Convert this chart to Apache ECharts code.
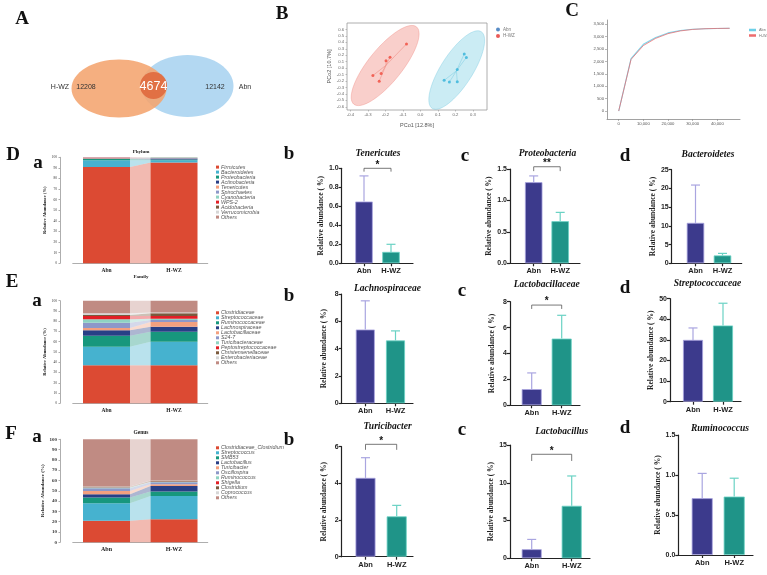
<!DOCTYPE html>
<html>
<head>
<meta charset="utf-8">
<script src="https://cdn.jsdelivr.net/npm/echarts@6/dist/echarts.min.js"></script>
<style>html,body{margin:0;padding:0;background:#fff}#main{width:767px;height:575px}</style>
</head>
<body>
<div id="main"></div>
<script>
var groups = ['Abn', 'H-WZ'];
var vennCounts = [12208, 4674, 12142];   // H-WZ only, shared, Abn only

// PCoA
var pcoaAbn = [[0.25, 0.22], [0.262, 0.165], [0.21, -0.023], [0.135, -0.19], [0.165, -0.217], [0.21, -0.21]];
var pcoaHwz = [[-0.08, 0.375], [-0.174, 0.17], [-0.197, 0.115], [-0.225, -0.084], [-0.272, -0.115], [-0.236, -0.202]];
var ellipseAbn = [0.207, -0.03, 0.14, 0.595, 0.0763, -0.132];
var ellipseHwz = [-0.202, 0.04, 0.179, 0.6, 0.0746, -0.164];
var pcoaXTicks = [-0.4, -0.3, -0.2, -0.1, 0, 0.1, 0.2, 0.3];
var pcoaYTicks = [-0.6, -0.5, -0.4, -0.3, -0.2, -0.1, 0, 0.1, 0.2, 0.3, 0.4, 0.5, 0.6];

// rarefaction
var depth = [0, 5000, 10000, 15000, 20000, 25000, 30000, 35000, 40000, 45000];
var rareAbn = [0, 2110, 2690, 2965, 3150, 3245, 3295, 3320, 3330, 3335];
var rareHwz = [0, 2080, 2640, 2930, 3120, 3230, 3290, 3318, 3330, 3335];
var rareXTicks = [0, 10000, 20000, 30000, 40000];
var rareYTicks = [0, 500, 1000, 1500, 2000, 2500, 3000, 3500];

// stacked composition
var phylumNames = ['Firmicutes', 'Bacteroidetes', 'Proteobacteria', 'Actinobacteria', 'Tenericutes', 'Spirochaetes', 'Cyanobacteria', 'WPS-2', 'Acidobacteria', 'Verrucomicrobia', 'Others'];
var phylumAbn = [90.8, 6.4, 1.3, 0.3, 0.65, 0.1, 0.1, 0.05, 0.05, 0.05, 0.2];
var phylumHwz = [95.2, 2.1, 0.7, 0.9, 0.12, 0.3, 0.38, 0.1, 0.05, 0.05, 0.1];
var familyNames = ['Clostridiaceae', 'Streptococcaceae', 'Ruminococcaceae', 'Lachnospiraceae', 'Lactobacillaceae', 'S24-7', 'Turicibacteraceae', 'Peptostreptococcaceae', 'Christensenellaceae', 'Enterobacteriaceae', 'Others'];
var familyAbn = [37.0, 18.2, 10.7, 5.2, 2.3, 5.2, 3.2, 3.3, 1.0, 1.7, 12.2];
var familyHwz = [37.0, 23.1, 9.7, 4.9, 4.5, 2.0, 1.3, 2.6, 2.6, 0.9, 11.4];
var genusNames = ['Clostridiaceae_Clostridium', 'Streptococcus', 'SMB53', 'Lactobacillus', 'Turicibacter', 'Oscillospira', 'Ruminococcus', 'Shigella', 'Clostridium', 'Coprococcus', 'Others'];
var genusAbn = [21.0, 16.9, 5.5, 3.2, 3.2, 2.6, 1.0, 0.2, 0.4, 0.2, 45.8];
var genusHwz = [22.3, 22.7, 4.2, 5.5, 1.6, 2.0, 0.6, 0.2, 0.6, 0.3, 40.0];
var stackTicks = [0, 10, 20, 30, 40, 50, 60, 70, 80, 90, 100];

// group means and upper error values
var tenericutes = [0.65, 0.12], tenericutesErr = [0.92, 0.20];
var proteobacteria = [1.29, 0.67], proteobacteriaErr = [1.39, 0.81];
var bacteroidetes = [10.8, 2.1], bacteroidetesErr = [20.9, 2.65];
var lachnospiraceae = [5.4, 4.6], lachnospiraceaeErr = [7.5, 5.3];
var lactobacillaceae = [1.25, 5.15], lactobacillaceaeErr = [2.5, 6.95];
var streptococcaceae = [30.0, 37.0], streptococcaceaeErr = [35.8, 47.8];
var turicibacter = [4.3, 2.2], turicibacterErr = [5.4, 2.8];
var lactobacillus = [1.2, 6.95], lactobacillusErr = [2.5, 10.9];
var ruminococcus = [0.71, 0.73], ruminococcusErr = [1.02, 0.96];

var sans = 'Liberation Sans', serif = 'Liberation Serif';
var taxonColors = ['#dc4a33', '#46b2cf', '#17977d', '#283f86', '#f3a07f', '#8d98c9', '#8fd3c2', '#e21f26', '#7b5a3d', '#d6d6d6', '#c08b83'];
var barColors = ['#3c3a8c', '#1f9488'], errColors = ['#a9a5e0', '#6ad2c4'];

var grids = [], xAxes = [], yAxes = [], series = [], legends = [], graphics = [];

function fmt1(v) { return (Math.round(v * 10) / 10).toFixed(1); }
function thousands(v) { return String(v).replace(/\B(?=(\d{3})+(?!\d))/g, ','); }

function txt(s, x, y, font, color, align) {
    graphics.push({type: 'text', x: x, y: y, z: 50, style: {text: s, font: font, fill: color || '#111',
        align: align || 'center', textAlign: align || 'center', verticalAlign: 'middle', textVerticalAlign: 'middle'}});
}

//Venn
graphics.push({type: 'ellipse', shape: {cx: 187.5, cy: 86, rx: 46, ry: 31}, style: {fill: '#b3d8f2'}});
graphics.push({type: 'ellipse', shape: {cx: 119, cy: 88.5, rx: 47.5, ry: 29}, style: {fill: '#f4a46e', opacity: 0.88}});
graphics.push({type: 'circle', shape: {cx: 153.5, cy: 85.5, r: 13.5}, style: {fill: '#df6a3f', opacity: 0.92}});
txt('H-WZ', 60, 87.5, '7px ' + sans, '#333');
txt(String(vennCounts[0]), 86, 87.5, '7px ' + sans, '#333');
txt(String(vennCounts[1]), 153.5, 87, '12.5px ' + sans, '#fff');
txt(String(vennCounts[2]), 215, 87.5, '7px ' + sans, '#333');
txt('Abn', 245, 87.5, '7px ' + sans, '#333');

//panel letters
var bigFont = 'bold 19px ' + serif;
txt('A', 22, 19, bigFont); txt('B', 282, 14, bigFont); txt('C', 572, 11, bigFont);
txt('D', 13, 155, bigFont); txt('a', 38, 163, bigFont);
txt('E', 12, 282, bigFont); txt('a', 37, 301, bigFont);
txt('F', 11, 434, bigFont); txt('a', 37, 437, bigFont);
txt('b', 289, 154, bigFont); txt('c', 465, 156, bigFont); txt('d', 625, 156, bigFont);
txt('b', 289, 296, bigFont); txt('c', 462, 291, bigFont); txt('d', 625, 288, bigFont);
txt('b', 289, 440, bigFont); txt('c', 462, 430, bigFont); txt('d', 625, 428, bigFont);

//PCoA
grids.push({left: 347, top: 23, width: 140, height: 87, show: true, borderColor: '#9a9a9a', borderWidth: 0.8});
xAxes.push({type: 'value', gridIndex: 0, min: -0.42, max: 0.38, name: 'PCo1 [12.8%]', nameLocation: 'middle', nameGap: 12,
    nameTextStyle: {fontSize: 5.5, color: '#555', fontFamily: sans},
    axisLine: {show: false, onZero: false}, splitLine: {show: false},
    axisTick: {customValues: pcoaXTicks, length: 1.5, lineStyle: {color: '#999', width: 0.6}},
    axisLabel: {customValues: pcoaXTicks, fontSize: 4.2, color: '#666', margin: 3, formatter: fmt1}});
yAxes.push({type: 'value', gridIndex: 0, min: -0.65, max: 0.7, name: 'PCo2 [10.7%]', nameLocation: 'middle', nameGap: 15,
    nameTextStyle: {fontSize: 5.5, color: '#555', fontFamily: sans},
    axisLine: {show: false, onZero: false}, splitLine: {show: false},
    axisTick: {show: true, customValues: pcoaYTicks, length: 1.5, lineStyle: {color: '#999', width: 0.6}},
    axisLabel: {customValues: pcoaYTicks, fontSize: 4.2, color: '#666', margin: 3, formatter: fmt1}});

function ellipseItem(e, fill, stroke) {
    return function (params, api) {
        var pts = [];
        for (var t = 0; t < 72; t++) {
            var a = t / 72 * Math.PI * 2;
            pts.push(api.coord([e[0] + Math.cos(a) * e[2] + Math.sin(a) * e[4], e[1] + Math.cos(a) * e[3] + Math.sin(a) * e[5]]));
        }
        return {type: 'polygon', shape: {points: pts}, style: {fill: fill, stroke: stroke, lineWidth: 0.6}};
    };
}
function spiderItem(pts, color) {
    var cx = 0, cy = 0;
    pts.forEach(function (p) { cx += p[0] / pts.length; cy += p[1] / pts.length; });
    return function (params, api) {
        var c = api.coord([cx, cy]), p = api.coord([api.value(0), api.value(1)]);
        return {type: 'line', shape: {x1: c[0], y1: c[1], x2: p[0], y2: p[1]}, style: {stroke: color, lineWidth: 0.6}};
    };
}
series.push({type: 'custom', xAxisIndex: 0, yAxisIndex: 0, data: [[ellipseHwz[0], ellipseHwz[1]]], z: 1,
    renderItem: ellipseItem(ellipseHwz, 'rgba(241,140,130,0.42)', 'rgba(236,120,110,0.55)')});
series.push({type: 'custom', xAxisIndex: 0, yAxisIndex: 0, data: [[ellipseAbn[0], ellipseAbn[1]]], z: 1,
    renderItem: ellipseItem(ellipseAbn, 'rgba(140,212,230,0.45)', 'rgba(110,195,222,0.6)')});
series.push({type: 'custom', xAxisIndex: 0, yAxisIndex: 0, data: pcoaHwz, z: 2, renderItem: spiderItem(pcoaHwz, '#ee9188')});
series.push({type: 'custom', xAxisIndex: 0, yAxisIndex: 0, data: pcoaAbn, z: 2, renderItem: spiderItem(pcoaAbn, '#86d0e4')});
series.push({type: 'scatter', name: 'Abn', xAxisIndex: 0, yAxisIndex: 0, data: pcoaAbn, symbolSize: 3, z: 3, itemStyle: {color: '#35b3d9'}});
series.push({type: 'scatter', name: 'H-WZ', xAxisIndex: 0, yAxisIndex: 0, data: pcoaHwz, symbolSize: 3, z: 3, itemStyle: {color: '#f04a3c'}});
legends.push({left: 491, top: 22, orient: 'vertical', itemWidth: 4, itemHeight: 4, itemGap: 1.5, icon: 'circle', selectedMode: false,
    textStyle: {fontSize: 4.5, color: '#777', fontFamily: sans, padding: [0, 0, 0, -2]},
    data: [{name: 'Abn', itemStyle: {color: '#2e6fb8'}}, {name: 'H-WZ', itemStyle: {color: '#e3312d'}}]});

//rarefaction
grids.push({left: 607, top: 20, width: 133, height: 99});
xAxes.push({type: 'value', gridIndex: 1, min: -4750, max: 49200, splitLine: {show: false},
    axisLine: {onZero: false, lineStyle: {color: '#8a8a8a', width: 0.8}},
    axisTick: {customValues: rareXTicks, length: 2, lineStyle: {color: '#8a8a8a', width: 0.6}},
    axisLabel: {customValues: rareXTicks, fontSize: 4.2, color: '#555', margin: 3, formatter: thousands}});
yAxes.push({type: 'value', gridIndex: 1, min: -322, max: 3670, splitLine: {show: false},
    axisLine: {show: true, onZero: false, lineStyle: {color: '#8a8a8a', width: 0.8}},
    axisTick: {show: true, customValues: rareYTicks, length: 2, lineStyle: {color: '#8a8a8a', width: 0.6}},
    axisLabel: {customValues: rareYTicks, fontSize: 4.2, color: '#555', margin: 3, formatter: thousands}});
series.push({type: 'line', name: 'Abn', xAxisIndex: 1, yAxisIndex: 1, showSymbol: false, smooth: false,
    data: depth.map(function (d, i) { return [d, rareAbn[i]]; }), itemStyle: {color: '#48c4e2'}, lineStyle: {width: 1.1, color: '#48c4e2', opacity: 0.7}});
series.push({type: 'line', name: 'H-WZ', xAxisIndex: 1, yAxisIndex: 1, showSymbol: false, smooth: false,
    data: depth.map(function (d, i) { return [d, rareHwz[i]]; }), itemStyle: {color: '#e8474a'}, lineStyle: {width: 1, color: '#ec6a6c', opacity: 0.75}});
legends.push({left: 744, top: 23, orient: 'vertical', itemWidth: 7, itemHeight: 2.5, itemGap: 1.5, icon: 'rect', selectedMode: false,
    textStyle: {fontSize: 3.8, color: '#777', fontFamily: sans, padding: [0, 0, 0, -2]},
    data: [{name: 'Abn', itemStyle: {color: '#48c4e2'}}, {name: 'H-WZ', itemStyle: {color: '#e8474a'}}]});

//stacked composition panels
function flowItem(abn, hwz, bw) {
    return function (params, api) {
        var i = params.dataIndex, a0 = 0, h0 = 0;
        for (var j = 0; j < i; j++) { a0 += abn[j]; h0 += hwz[j]; }
        var p1 = api.coord([0, a0]), p2 = api.coord([0, a0 + abn[i]]);
        var p3 = api.coord([1, h0 + hwz[i]]), p4 = api.coord([1, h0]);
        var hb = bw / 2;
        return {type: 'polygon', shape: {points: [[p1[0] + hb, p1[1]], [p2[0] + hb, p2[1]], [p3[0] - hb, p3[1]], [p4[0] - hb, p4[1]]]},
            style: {fill: taxonColors[i], opacity: 0.38}};
    };
}
function stackPanel(g, title, names, abn, hwz, top, height, titleY, legendTop, big) {
    var bw = 47;
    grids.push({left: 72.75, top: top, width: 135, height: height});
    xAxes.push({type: 'category', gridIndex: g, data: groups,
        axisLine: {onZero: false, lineStyle: {color: '#999', width: 0.8}}, axisTick: {show: false},
        axisLabel: {fontSize: big ? 6 : 5.5, fontWeight: 'bold', fontFamily: serif, color: '#222', margin: 4}});
    yAxes.push({type: 'value', gridIndex: g, min: 0, max: 100, offset: 12.75, splitLine: {show: false},
        name: 'Relative Abundance (%)', nameLocation: 'middle', nameGap: big ? 13 : 10,
        nameTextStyle: {fontSize: big ? 5 : 4.5, fontWeight: 'bold', fontFamily: serif, color: '#222'},
        axisLine: {show: true, lineStyle: {color: '#777', width: 0.6}},
        axisTick: {show: true, customValues: stackTicks, length: 1.5, lineStyle: {color: '#777', width: 0.6}},
        axisLabel: {customValues: stackTicks, fontSize: big ? 5 : 3.6, fontWeight: big ? 'bold' : 'normal', fontFamily: serif, color: '#333', margin: 3}});
    names.forEach(function (n, i) {
        series.push({type: 'bar', name: n, stack: 'comp' + g, xAxisIndex: g, yAxisIndex: g, barWidth: bw,
            data: [abn[i], hwz[i]], itemStyle: {color: taxonColors[i]}});
    });
    series.push({type: 'custom', xAxisIndex: g, yAxisIndex: g, z: 1, data: names.map(function () { return [0, 50]; }),
        renderItem: flowItem(abn, hwz, bw)});
    legends.push({left: 211, top: legendTop, orient: 'vertical', itemWidth: 3, itemHeight: 3, itemGap: 0, icon: 'rect',
        selectedMode: false, data: names,
        textStyle: {fontSize: 5.3, lineHeight: 4.85, fontStyle: 'italic', color: '#555', fontFamily: sans, padding: [0, 0, 0, -3]}});
    txt(title, 141, titleY, 'bold ' + (big ? 5.5 : 5) + 'px ' + serif, '#222');
}
stackPanel(2, 'Phylum', phylumNames, phylumAbn, phylumHwz, 157.3, 106, 152, 159.6, false);
stackPanel(3, 'Family', familyNames, familyAbn, familyHwz, 300.7, 102.6, 277, 305.3, false);
stackPanel(4, 'Genus', genusNames, genusAbn, genusHwz, 439.3, 103, 433, 440.3, true);

//group bar panels
var panels = [
    {title: 'Tenericutes', mean: tenericutes, upper: tenericutesErr, ticks: [0, 0.2, 0.4, 0.6, 0.8, 1.0], sig: ['*', 1.0, 0.035],
        box: [341.7, 168.3, 413, 263.3], cx: [364, 391], bw: 17.5, t: [378, 154]},
    {title: 'Proteobacteria', mean: proteobacteria, upper: proteobacteriaErr, ticks: [0, 0.5, 1.0, 1.5], sig: ['**', 1.536, 0.07],
        box: [510, 169, 580, 263.3], cx: [533.7, 560.2], bw: 17.5, t: [547.5, 154]},
    {title: 'Bacteroidetes', mean: bacteroidetes, upper: bacteroidetesErr, ticks: [0, 5, 10, 15, 20, 25],
        box: [671.7, 169.7, 741.7, 263.3], cx: [695.5, 722.5], bw: 17.5, t: [708, 155]},
    {title: 'Lachnospiraceae', mean: lachnospiraceae, upper: lachnospiraceaeErr, ticks: [0, 2, 4, 6, 8],
        box: [341.7, 294, 413, 403.3], cx: [365.3, 395.5], bw: 19, t: [387.5, 288.3]},
    {title: 'Lactobacillaceae', mean: lactobacillaceae, upper: lactobacillaceaeErr, ticks: [0, 2, 4, 6, 8], sig: ['*', 7.74, 0.3],
        box: [510, 301.7, 580, 405.3], cx: [531.7, 561.7], bw: 20, t: [546.7, 285]},
    {title: 'Streptococcaceae', mean: streptococcaceae, upper: streptococcaceaeErr, ticks: [0, 10, 20, 30, 40, 50],
        box: [670, 298.7, 741, 401.7], cx: [693, 723], bw: 20, t: [707.5, 283.3]},
    {title: 'Turicibacter', mean: turicibacter, upper: turicibacterErr, ticks: [0, 2, 4, 6], sig: ['*', 6.13, 0.3],
        box: [341.7, 446.7, 413, 556.7], cx: [365.5, 396.7], bw: 20, t: [387.5, 426.7]},
    {title: 'Lactobacillus', mean: lactobacillus, upper: lactobacillusErr, ticks: [0, 5, 10, 15], sig: ['*', 13.77, 0.88],
        box: [510, 445, 590, 558.3], cx: [531.7, 571.7], bw: 20, t: [561.7, 431.7]},
    {title: 'Ruminococcus', mean: ruminococcus, upper: ruminococcusErr, ticks: [0, 0.5, 1.0, 1.5],
        box: [678.3, 435, 753, 555], cx: [702.2, 734.2], bw: 21, t: [720, 428.3]}
];

function errorItem(params, api) {
    var b = api.coord([api.value(0), api.value(1)]), u = api.coord([api.value(0), api.value(2)]);
    var c = errColors[params.dataIndex];
    return {type: 'group', children: [
        {type: 'line', shape: {x1: b[0], y1: b[1], x2: u[0], y2: u[1]}, style: {stroke: c, lineWidth: 1.2}},
        {type: 'line', shape: {x1: u[0] - 4.5, y1: u[1], x2: u[0] + 4.5, y2: u[1]}, style: {stroke: c, lineWidth: 1.2}}
    ]};
}
function sigItem(label) {
    return function (params, api) {
        var lv = api.value(1), d = api.value(2);
        var p1 = api.coord([1, lv - d]), p2 = api.coord([1, lv]), p3 = api.coord([2, lv]), p4 = api.coord([2, lv - d]);
        return {type: 'group', children: [
            {type: 'polyline', shape: {points: [p1, p2, p3, p4]}, style: {stroke: '#555', lineWidth: 0.8, fill: null}},
            {type: 'text', x: (p2[0] + p3[0]) / 2, y: p2[1] + 1.5, style: {text: label, font: 'bold 10px ' + sans, fill: '#111',
                align: 'center', textAlign: 'center', verticalAlign: 'bottom', textVerticalAlign: 'bottom'}}
        ]};
    };
}

panels.forEach(function (p, k) {
    var g = 5 + k;
    var ppu = p.cx[1] - p.cx[0];
    var dec = p.ticks.some(function (t) { return t % 1 !== 0; });
    grids.push({left: p.box[0], top: p.box[1], width: p.box[2] - p.box[0], height: p.box[3] - p.box[1]});
    xAxes.push({type: 'value', gridIndex: g, min: 1 - (p.cx[0] - p.box[0]) / ppu, max: 2 + (p.box[2] - p.cx[1]) / ppu,
        splitLine: {show: false}, axisLine: {onZero: false, lineStyle: {color: '#222', width: 1.2}},
        axisTick: {customValues: [1, 2], length: 3, lineStyle: {color: '#222', width: 1.2}},
        axisLabel: {customValues: [1, 2], formatter: function (v) { return groups[Math.round(v) - 1]; },
            fontSize: 7.5, fontWeight: 'bold', fontFamily: sans, color: '#222', margin: 4}});
    yAxes.push({type: 'value', gridIndex: g, min: 0, max: p.ticks[p.ticks.length - 1], splitLine: {show: false},
        name: 'Relative abundance ( %)', nameLocation: 'middle', nameGap: 14,
        nameTextStyle: {fontSize: 7.5, fontWeight: 'bold', fontFamily: serif, color: '#222'},
        axisLine: {show: true, onZero: false, lineStyle: {color: '#222', width: 1.2}},
        axisTick: {show: true, customValues: p.ticks, length: 3, lineStyle: {color: '#222', width: 1.2}},
        axisLabel: {customValues: p.ticks, fontSize: 7, fontWeight: 'bold', fontFamily: sans, color: '#222', margin: 3,
            formatter: function (v) { return dec ? fmt1(v) : String(Math.round(v)); }}});
    series.push({type: 'bar', xAxisIndex: g, yAxisIndex: g, barWidth: p.bw, z: 2,
        data: [0, 1].map(function (i) {
            return {value: [i + 1, p.mean[i]], itemStyle: {color: barColors[i], borderColor: errColors[i], borderWidth: 0.8}};
        })});
    series.push({type: 'custom', xAxisIndex: g, yAxisIndex: g, z: 3, renderItem: errorItem,
        data: [[1, p.mean[0], p.upper[0]], [2, p.mean[1], p.upper[1]]]});
    if (p.sig) {
        series.push({type: 'custom', xAxisIndex: g, yAxisIndex: g, z: 3, renderItem: sigItem(p.sig[0]),
            data: [[1.5, p.sig[1], p.sig[2]]]});
    }
    txt(p.title, p.t[0], p.t[1], 'italic bold 9.5px ' + serif, '#111');
});

var chart = echarts.init(document.getElementById('main'));
chart.setOption({
    animation: false,
    grid: grids,
    xAxis: xAxes,
    yAxis: yAxes,
    legend: legends,
    series: series,
    graphic: graphics
});
</script>
</body>
</html>
